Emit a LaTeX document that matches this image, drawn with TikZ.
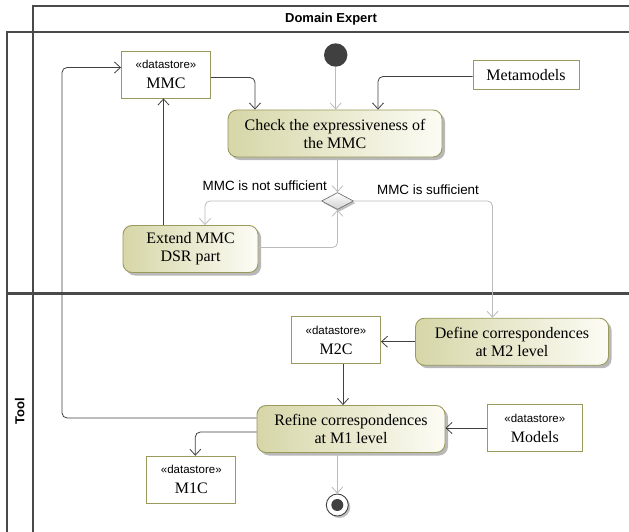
\documentclass[tikz,border=0pt]{standalone}
\usepackage{fontspec}
\setmainfont{Liberation Serif}
\setsansfont{Liberation Sans}
\usetikzlibrary{arrows.meta,shapes.geometric,shadows}

\definecolor{lane}{HTML}{4A4A4A}
\definecolor{edgedark}{HTML}{404040}
\definecolor{edgelight}{HTML}{BBBBBB}
\definecolor{olivebd}{HTML}{9A9A5C}
\definecolor{actleft}{HTML}{D6D6A8}
\definecolor{actright}{HTML}{FCFCF5}

\newcommand{\dstore}{{\sffamily\fontsize{11.5}{13}\selectfont «datastore»}}

\tikzset{
  swim/.style={draw=lane, line width=2.4pt},
  lanelabel/.style={font=\sffamily\bfseries\fontsize{13}{15}\selectfont, inner sep=0pt},
  action/.style={draw=olivebd, line width=0.9pt, rounded corners=9pt,
    left color=actleft, right color=actright,
    drop shadow={shadow xshift=3pt, shadow yshift=-3pt, fill=black!28, opacity=1},
    align=center, inner sep=0pt, minimum height=47pt, font=\fontsize{16}{18}\selectfont},
  store/.style={draw=olivebd, line width=0.9pt, fill=white, align=center, inner sep=0pt,
    minimum width=89pt, minimum height=47pt, font=\fontsize{16}{18}\selectfont},
  decision/.style={diamond, draw=black!55, line width=0.7pt, top color=white, bottom color=black!18,
    minimum width=32pt, minimum height=17pt, inner sep=0pt,
    drop shadow={shadow xshift=2pt, shadow yshift=-2pt, fill=black!25, opacity=1}},
  flow/.style={draw=edgedark, line width=0.8pt, rounded corners=5pt, -{Straight Barb[length=6pt,width=11pt]}},
  ctrl/.style={flow, draw=edgelight},
  guard/.style={font=\sffamily\fontsize{13.4}{15}\selectfont, inner sep=0pt},
}

\begin{document}
\begin{tikzpicture}[x=1pt, y=-1pt]
    \useasboundingbox (0,0) rectangle (629,532);

    \draw[swim] (32.7,532) -- (32.7,6) -- (629,6);
    \draw[swim] (6.7,532) -- (6.7,32.3) -- (629,32.3);
    \draw[swim] (6.7,293.3) -- (629,293.3);
    \node[lanelabel] (expertlane) at (331,19) {Domain Expert};
    \node[lanelabel, rotate=90] (toollane) at (19.7,411) {Tool};

    \node[circle, fill=edgedark, minimum size=23.4pt, inner sep=0pt] (init) at (335.7,55) {};
    \node[store] (mmc) at (166,74.5) {\dstore\\[2pt]MMC};
    \node[store, minimum width=106pt, minimum height=29pt] (meta) at (526,75) {Metamodels};
    \node[action, minimum width=214pt] (check) at (335,133.5) {Check the expressiveness of\\the MMC};
    \node[decision] (dec) at (337.5,201) {};
    \node[action, minimum width=135pt] (extend) at (190.5,249) {Extend MMC\\DSR part};
    \node[action, minimum width=193pt] (define) at (512,341.7) {Define correspondences\\at M2 level};
    \node[store] (m2c) at (336,340.3) {\dstore\\[2pt]M2C};
    \node[action, minimum width=188pt] (refine) at (351,429) {Refine correspondences\\at M1 level};
    \node[store, minimum width=95pt] (models) at (534.8,428) {\dstore\\[2pt]Models};
    \node[store] (m1c) at (191.3,479.7) {\dstore\\[2pt]M1C};
    \node[circle, draw=edgedark, line width=0.9pt, fill=white, minimum size=22pt, inner sep=0pt,
      drop shadow={shadow xshift=2pt, shadow yshift=-2pt, fill=black!25, opacity=1}] (fin) at (337.3,505) {};
    \node[circle, fill=edgedark, minimum size=12pt, inner sep=0pt] (findot) at (fin) {};

    \node[guard, anchor=east] (notok) at (327,186) {MMC is not sufficient};
    \node[guard] (ok) at (428,190) {MMC is sufficient};

    \draw[ctrl] (init) -- (init |- check.north);
    \draw[flow] ([yshift=-3pt]mmc.east) -| ([xshift=-80pt]check.north);
    \draw[flow] ([yshift=-1.5pt]meta.west) -| ([xshift=43pt]check.north);
    \draw[ctrl] (check.south -| dec) -- (dec.north);
    \draw[ctrl] (dec.west) -| ([xshift=14.5pt]extend.north);
    \draw[ctrl] ([yshift=1.5pt]extend.east) -| (dec.south);
    \draw[flow] ([xshift=-27pt]extend.north) -- ([xshift=-27pt]extend.north |- mmc.south);
    \draw[ctrl] (dec.east) -| ([xshift=-19.5pt]define.north);
    \draw[flow] (define.west) -- (define.west -| m2c.east);
    \draw[flow] ([xshift=7pt]m2c.south) -- ([xshift=7pt]m2c.south |- refine.north);
    \draw[flow] (models.west) -- (models.west -| refine.east);
    \draw[flow] ([yshift=11pt]refine.west) -| ([xshift=-59pt,yshift=7pt]mmc.west) -- ([yshift=7pt]mmc.west);
    \draw[flow] ([yshift=-3pt]refine.west) -| ([xshift=4pt]m1c.north);
    \draw[ctrl] (refine.south -| fin) -- (fin.north);
\end{tikzpicture}
\end{document}
